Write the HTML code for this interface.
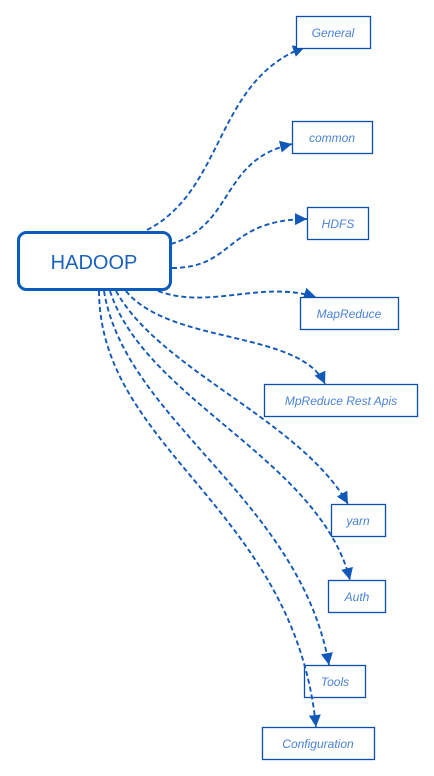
<!DOCTYPE html>
<html><head><style>
html,body{margin:0;padding:0;background:#fff;}
svg{display:block;}
.b{fill:#fff;stroke:#0b4fae;stroke-width:1.3;}
.t{font-family:"Liberation Sans",sans-serif;font-style:italic;font-size:12px;fill:#4a83d4;text-anchor:middle;}
.e{fill:none;stroke:#1159b8;stroke-width:1.9;stroke-dasharray:5,3;}
</style></head><body>
<svg width="434" height="776" viewBox="0 0 434 776" xmlns="http://www.w3.org/2000/svg">
<defs>
<marker id="a" markerUnits="userSpaceOnUse" markerWidth="14" markerHeight="14" refX="12" refY="6" orient="auto">
<path d="M0,0 L12,6 L0,12 z" fill="#1159b8"/>
</marker>
</defs>
<path class="e" marker-end="url(#a)" d="M147,230 C225,190 215,80 305,47"/>
<path class="e" marker-end="url(#a)" d="M171,244 C235,225 220,160 292,144"/>
<path class="e" marker-end="url(#a)" d="M172,268 C235,268 225,220 307,219"/>
<path class="e" marker-end="url(#a)" d="M158,291 C210,310 260,280 316,297"/>
<path class="e" marker-end="url(#a)" d="M126,291 C170,345 300,330 325,384"/>
<path class="e" marker-end="url(#a)" d="M116,291 C160,370 300,420 348,504"/>
<path class="e" marker-end="url(#a)" d="M110,291 C145,400 320,460 350,580"/>
<path class="e" marker-end="url(#a)" d="M104,291 C125,420 300,500 329,665"/>

<rect x="18.5" y="232.5" width="152" height="57" rx="8" fill="#fff" stroke="#0b5cba" stroke-width="3"/>
<text x="94" y="269" font-family="Liberation Sans, sans-serif" font-size="20" fill="#1a62c0" text-anchor="middle">HADOOP</text>

<rect class="b" x="296.5" y="16.5" width="74" height="32"/><text class="t" x="333" y="37">General</text>
<rect class="b" x="292.5" y="121.5" width="80" height="32"/><text class="t" x="332" y="142">common</text>
<rect class="b" x="307.5" y="207.5" width="61" height="32"/><text class="t" x="338" y="228">HDFS</text>
<rect class="b" x="300.5" y="297.5" width="98" height="32"/><text class="t" x="349" y="318">MapReduce</text>
<rect class="b" x="264.5" y="384.5" width="153" height="32"/><text class="t" x="341" y="405">MpReduce Rest Apis</text>
<rect class="b" x="331.5" y="504.5" width="54" height="32"/><text class="t" x="358" y="525">yarn</text>
<rect class="b" x="328.5" y="580.5" width="57" height="32"/><text class="t" x="357" y="601">Auth</text>
<rect class="b" x="304.5" y="665.5" width="61" height="32"/><text class="t" x="335" y="686">Tools</text>
<path class="e" marker-end="url(#a)" d="M99,291 C100,450 295,510 316,727"/>
<rect class="b" x="262.5" y="727.5" width="112" height="32"/><text class="t" x="318" y="748">Configuration</text>
</svg>
</body></html>
